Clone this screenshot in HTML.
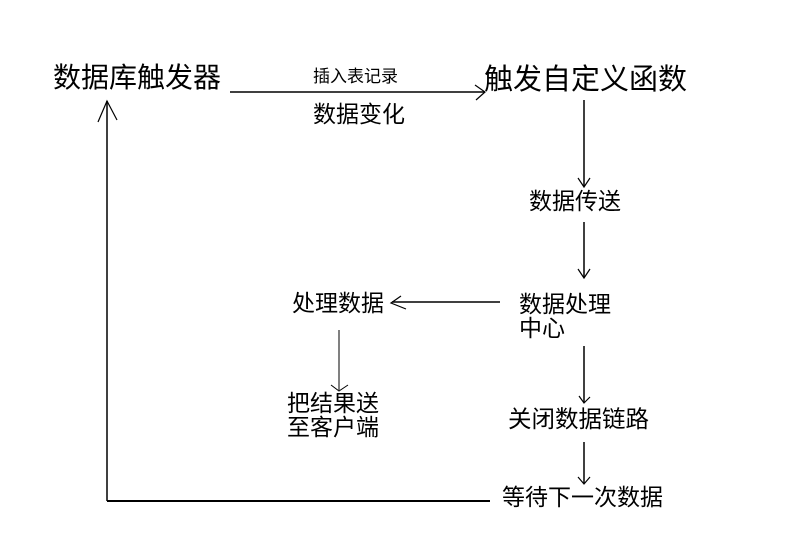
<!DOCTYPE html>
<html><head><meta charset="utf-8"><style>
body{margin:0;background:#fff;width:796px;height:533px;overflow:hidden;position:relative;font-family:"Liberation Sans","WenQuanYi Zen Hei","Noto Sans CJK SC",sans-serif;color:#000}
.t{position:absolute;white-space:nowrap;line-height:1}
svg{position:absolute;left:0;top:0}
</style></head><body>
<svg width="796" height="533" stroke="#000" fill="none">
<line x1="230" y1="92" x2="485" y2="92" stroke-width="1.5"/>
<polyline points="475,85 485,92 476,100" stroke-width="1.2"/>
<line x1="584" y1="100" x2="584" y2="186" stroke-width="1.5"/>
<polyline points="578,178 584,187 590,178" stroke-width="1.2"/>
<line x1="584" y1="222" x2="584" y2="277" stroke-width="1.5"/>
<polyline points="578,269 584,278 590,269" stroke-width="1.2"/>
<line x1="392" y1="302" x2="500" y2="302" stroke-width="1.5"/>
<polyline points="401,296 391,303 406,309" stroke-width="1.2"/>
<line x1="339" y1="330" x2="339" y2="390" stroke-width="1"/>
<polyline points="331,385 339,391 348,385" stroke-width="1"/>
<line x1="584" y1="346" x2="584" y2="402" stroke-width="1.5"/>
<polyline points="579,396 584,403 590,397" stroke-width="1.2"/>
<line x1="584" y1="442" x2="584" y2="483" stroke-width="1.5"/>
<polyline points="578,477 584,484 590,477" stroke-width="1.2"/>
<line x1="107" y1="501" x2="490" y2="501" stroke-width="2"/>
<line x1="107" y1="101" x2="107" y2="501" stroke-width="1.5"/>
<polyline points="98,122 107,101 117,120" stroke-width="1.2"/>
</svg>
<div class="t" style="left:53px;top:64px;font-size:28px">数据库触发器</div>
<div class="t" style="left:313px;top:68px;font-size:17px">插入表记录</div>
<div class="t" style="left:313px;top:103px;font-size:23px">数据变化</div>
<div class="t" style="left:484px;top:66px;font-size:29px">触发自定义函数</div>
<div class="t" style="left:529px;top:190px;font-size:23px">数据传送</div>
<div class="t" style="left:519px;top:293px;font-size:23px">数据处理</div>
<div class="t" style="left:519px;top:317px;font-size:23px">中心</div>
<div class="t" style="left:292px;top:292px;font-size:23px">处理数据</div>
<div class="t" style="left:287px;top:392px;font-size:23px">把结果送</div>
<div class="t" style="left:287px;top:416px;font-size:23px">至客户端</div>
<div class="t" style="left:508px;top:408px;font-size:23.5px">关闭数据链路</div>
<div class="t" style="left:502px;top:486px;font-size:23px">等待下一次数据</div>
</body></html>
